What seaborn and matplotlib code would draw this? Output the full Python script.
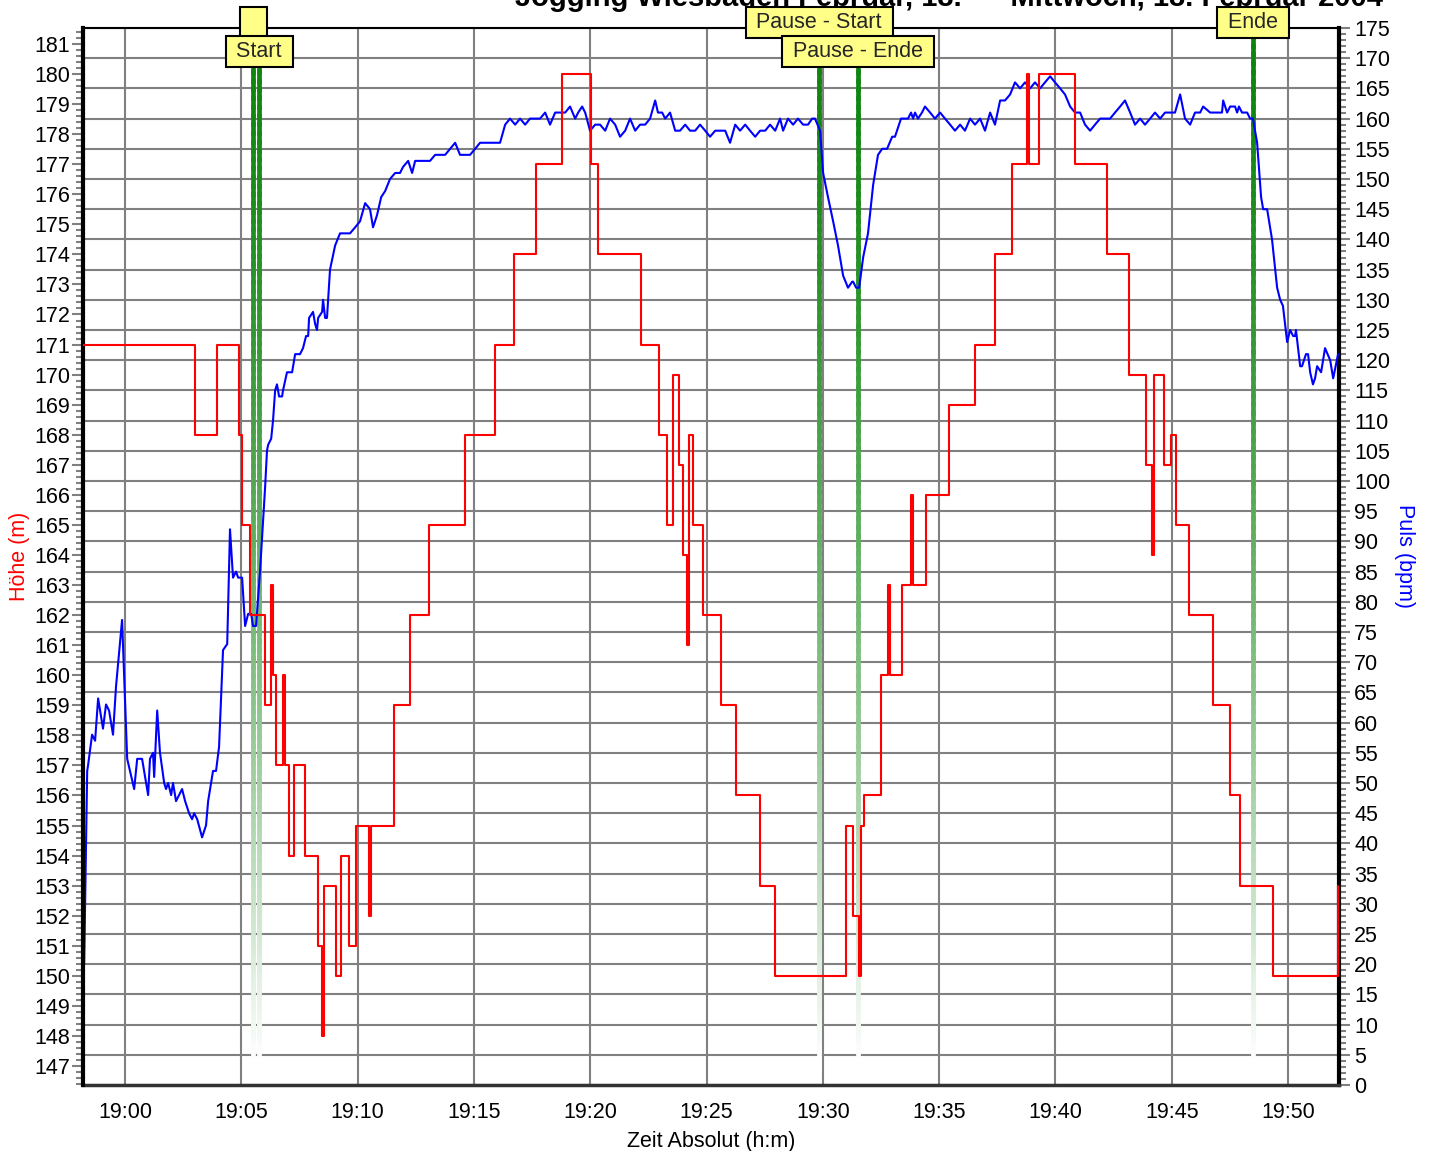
import numpy as np
import pandas as pd
import matplotlib
matplotlib.use("Agg")
import matplotlib.pyplot as plt
import matplotlib.dates as mdates
from matplotlib.collections import LineCollection
from matplotlib.transforms import blended_transform_factory
import seaborn as sns

# --- data (time in minutes after 19:00) ---
alt_min = [-1.81, 3.01, 3.96, 4.90, 5.03, 5.37, 6.02, 6.28, 6.36, 6.49, 6.79, 6.88,
           7.05, 7.27, 7.74, 8.30, 8.47, 8.56, 9.07, 9.29, 9.63, 9.93, 10.49, 10.58,
           11.56, 12.25, 13.07, 14.62, 15.91, 16.72, 17.67, 18.79, 20.03, 20.34,
           22.18, 22.96, 23.30, 23.56, 23.82, 23.99, 24.16, 24.25, 24.42, 24.85,
           25.62, 26.27, 27.30, 27.94, 31.00, 31.30, 31.56, 31.64, 31.77, 32.50,
           32.80, 32.89, 33.40, 33.79, 33.88, 34.44, 35.43, 36.54, 37.40, 38.13,
           38.78, 38.86, 39.29, 40.84, 42.22, 43.16, 43.90, 44.15, 44.24, 44.67,
           44.97, 45.18, 45.74, 46.78, 47.51, 47.94, 49.35, 52.12, 52.16]
alt_m = [171, 168, 171, 168, 165, 162, 159, 163, 160, 157, 160, 157,
         154, 157, 154, 151, 148, 153, 150, 154, 151, 155, 152, 155,
         159, 162, 165, 168, 171, 174, 177, 180, 177, 174,
         171, 168, 165, 170, 167, 164, 161, 168, 165, 162,
         159, 156, 153, 150, 155, 152, 150, 155, 156, 160,
         163, 160, 163, 166, 163, 166, 169, 171, 174, 177,
         180, 177, 180, 177, 174, 170, 167, 164, 170, 167,
         168, 165, 162, 159, 156, 153, 150, 150, 153]

pulse_min = [-1.76, -1.63, -1.59, -1.42, -1.29, -1.16, -0.95, -0.82, -0.69, -0.52, -0.39, -0.13,
             0.09, 0.21, 0.39, 0.52, 0.73, 0.99, 1.07, 1.20, 1.25, 1.38, 1.50, 1.68,
             1.76, 1.85, 1.98, 2.06, 2.19, 2.45, 2.58, 2.75, 2.88, 2.97, 3.10, 3.31,
             3.48, 3.57, 3.78, 3.91, 4.04, 4.21, 4.39, 4.51, 4.64, 4.77, 4.86, 5.03,
             5.16, 5.29, 5.42, 5.50, 5.63, 5.80, 6.02, 6.10, 6.15, 6.28, 6.36, 6.45,
             6.53, 6.62, 6.75, 6.79, 6.96, 7.09, 7.18, 7.31, 7.44, 7.52, 7.65, 7.78,
             7.87, 7.91, 8.08, 8.17, 8.25, 8.30, 8.47, 8.51, 8.60, 8.68, 8.81, 9.03,
             9.24, 9.67, 9.89, 10.10, 10.32, 10.53, 10.66, 10.83, 11.01, 11.18, 11.39, 11.61,
             11.82, 11.95, 12.17, 12.34, 12.47, 12.68, 13.11, 13.33, 13.76, 14.19, 14.40, 14.83,
             15.05, 15.26, 15.48, 15.91, 16.12, 16.34, 16.55, 16.77, 16.98, 17.20, 17.41, 17.63,
             17.84, 18.06, 18.27, 18.49, 18.70, 18.92, 19.13, 19.35, 19.48, 19.65, 19.78, 19.99,
             20.21, 20.42, 20.64, 20.85, 21.07, 21.28, 21.50, 21.71, 21.93, 22.14, 22.36, 22.57,
             22.79, 22.91, 23.09, 23.22, 23.43, 23.65, 23.86, 24.08, 24.29, 24.51, 24.72, 24.94,
             25.15, 25.37, 25.58, 25.80, 26.01, 26.23, 26.44, 26.66, 26.87, 27.09, 27.30, 27.52,
             27.73, 27.95, 28.16, 28.29, 28.50, 28.72, 28.93, 29.15, 29.36, 29.54, 29.66, 29.88,
             30.01, 30.22, 30.44, 30.65, 30.87, 31.08, 31.26, 31.30, 31.43, 31.56, 31.73, 31.94,
             32.16, 32.37, 32.55, 32.76, 32.98, 33.10, 33.36, 33.66, 33.79, 33.88, 33.96, 34.09,
             34.26, 34.39, 34.61, 34.82, 35.04, 35.25, 35.47, 35.68, 35.90, 36.11, 36.33, 36.54,
             36.76, 36.97, 37.19, 37.40, 37.62, 37.83, 38.05, 38.26, 38.48, 38.69, 38.91, 39.12,
             39.34, 39.55, 39.77, 39.98, 40.20, 40.41, 40.63, 40.84, 41.06, 41.27, 41.49, 41.70,
             41.92, 42.13, 42.35, 42.56, 42.78, 42.99, 43.21, 43.42, 43.64, 43.85, 44.07, 44.28,
             44.50, 44.71, 44.93, 45.14, 45.36, 45.57, 45.79, 46.00, 46.22, 46.35, 46.65, 47.16,
             47.21, 47.38, 47.51, 47.72, 47.81, 47.89, 48.02, 48.24, 48.37, 48.49, 48.67, 48.84,
             48.93, 49.10, 49.31, 49.53, 49.66, 49.78, 49.96, 50.09, 50.22, 50.30, 50.34, 50.52,
             50.60, 50.77, 50.86, 50.95, 51.07, 51.16, 51.25, 51.42, 51.59, 51.81, 51.94, 52.15]
pulse_bpm = [20, 52, 53, 58, 57, 64, 59, 63, 62, 58, 66, 77,
             54, 52, 49, 54, 54, 48, 54, 55, 51, 62, 55, 50,
             49, 50, 48, 50, 47, 49, 47, 45, 44, 45, 44, 41,
             43, 47, 52, 52, 56, 72, 73, 92, 84, 85, 84, 84,
             76, 78, 78, 76, 76, 85, 99, 105, 106, 107, 110, 115,
             116, 114, 114, 115, 118, 118, 118, 121, 121, 121, 122, 124,
             124, 127, 128, 126, 125, 127, 128, 130, 127, 127, 135, 139,
             141, 141, 142, 143, 146, 145, 142, 144, 147, 148, 150, 151,
             151, 152, 153, 151, 153, 153, 153, 154, 154, 156, 154, 154,
             155, 156, 156, 156, 156, 159, 160, 159, 160, 159, 160, 160,
             160, 161, 159, 161, 161, 161, 162, 160, 161, 162, 161, 158,
             159, 159, 158, 160, 159, 157, 158, 160, 158, 159, 159, 160,
             163, 161, 161, 160, 161, 158, 158, 159, 158, 158, 159, 158,
             157, 158, 158, 158, 156, 159, 158, 159, 158, 157, 158, 158,
             159, 158, 160, 158, 160, 159, 160, 159, 159, 160, 160, 158,
             151, 147, 143, 139, 134, 132, 133, 133, 132, 132, 137, 141,
             149, 154, 155, 155, 157, 157, 160, 160, 161, 160, 161, 160,
             161, 162, 161, 160, 161, 160, 159, 158, 159, 158, 160, 159,
             160, 158, 161, 159, 163, 163, 164, 166, 165, 166, 165, 166,
             165, 166, 167, 166, 165, 164, 162, 161, 161, 159, 158, 159,
             160, 160, 160, 161, 162, 163, 161, 159, 160, 159, 160, 161,
             160, 161, 161, 161, 164, 160, 159, 161, 161, 162, 161, 161,
             163, 161, 162, 162, 161, 162, 161, 161, 160, 160, 156, 147,
             145, 145, 140, 132, 130, 129, 123, 125, 124, 124, 125, 119,
             119, 121, 121, 118, 116, 117, 119, 118, 122, 120, 117, 121]

marker_min = [5.51, 5.76, 29.84, 31.51, 48.49]
marker_text = ["   ", "Start", "Pause - Start", "Pause - Ende", "Ende"]
marker_row = [0, 1, 0, 1, 0]

title = "Jogging Wiesbaden Februar, 18.  \u2013  Mittwoch, 18. Februar 2004"

base = pd.Timestamp("2004-02-18 19:00:00")
alt_df = pd.DataFrame({"Zeit": base + pd.to_timedelta(alt_min, unit="min"), "Hoehe": alt_m})
pulse_df = pd.DataFrame({"Zeit": base + pd.to_timedelta(pulse_min, unit="min"), "Puls": pulse_bpm})
marker_t = base + pd.to_timedelta(marker_min, unit="min")

sns.set_theme(style="white")
plt.rcParams["font.family"] = ["Liberation Sans", "DejaVu Sans"]
FS = 15.5

W, H = 1429, 1151
fig = plt.figure(figsize=(W / 100, H / 100), dpi=100)
ax = fig.add_axes([83 / W, 1 - 1085 / H, (1339 - 83) / W, (1085 - 28) / H])
ax2 = ax.twinx()

# host axis: pulse (right), grid, markers, blue line
ax.yaxis.tick_right()
ax.yaxis.set_label_position("right")
ax2.yaxis.tick_left()
ax2.yaxis.set_label_position("left")

ax.set_xlim(base + pd.Timedelta(minutes=-1.81), base + pd.Timedelta(minutes=52.19))
ax.set_ylim(0, 175)
ax2.set_ylim(146.37, 181.53)

ax.grid(True, which="major", color="#808080", lw=1.5)
ax.set_axisbelow(True)

# green marker lines fading downward
xn = mdates.date2num(marker_t)
ys = np.linspace(175, 2.5, 120)
green = np.array([0.05, 0.52, 0.05])
for xv in xn:
    segs = [[(xv, ys[i]), (xv, ys[i + 1])] for i in range(len(ys) - 1)]
    f = np.linspace(0, 1, len(segs)) ** 1.5
    cols = green[None, :] * (1 - f[:, None]) + f[:, None]
    ax.add_collection(LineCollection(segs, colors=cols, linewidths=3.4, zorder=2,
                                     capstyle="projecting"))

sns.lineplot(data=pulse_df, x="Zeit", y="Puls", ax=ax, color="#0000ff", lw=1.5,
             estimator=None, zorder=3)
sns.lineplot(data=alt_df, x="Zeit", y="Hoehe", ax=ax2, color="#ff0000", lw=1.5,
             estimator=None, drawstyle="steps-post", zorder=3)

trans = blended_transform_factory(ax.transData, fig.transFigure)
for t, txt, row in zip(xn, marker_text, marker_row):
    lab = " " + txt + " " if txt.strip() else txt
    ax.text(t, 1 - (22.5 + 29 * row) / H, lab, transform=trans, ha="center", va="center",
            fontsize=FS, zorder=10, clip_on=False,
            bbox=dict(boxstyle="square,pad=0.22", fc="#ffff88", ec="black", lw=1.5))

# ticks
ax.xaxis.set_major_locator(mdates.MinuteLocator(byminute=range(0, 60, 5)))
ax.xaxis.set_minor_locator(mdates.MinuteLocator())
ax.xaxis.set_major_formatter(mdates.DateFormatter("%H:%M"))
ax.yaxis.set_major_locator(plt.MultipleLocator(5))
ax.yaxis.set_minor_locator(plt.MultipleLocator(1))
ax2.yaxis.set_major_locator(plt.MultipleLocator(1))
ax2.yaxis.set_minor_locator(plt.MultipleLocator(0.2))
ax2.grid(False)

for a in (ax, ax2):
    a.tick_params(which="major", direction="out", length=8, width=1.5, color="#808080",
                  labelsize=FS, labelcolor="black", pad=3)
    a.tick_params(which="minor", direction="out", length=5, width=1.5, color="#808080")
ax.tick_params(axis="x", which="major", pad=4)
ax2.tick_params(axis="y", which="major", pad=1)
ax.tick_params(axis="y", which="both", left=False, right=True)
ax2.tick_params(axis="y", which="both", left=True, right=False)

ax.set_xlabel("Zeit Absolut (h:m)", fontsize=FS, color="black", labelpad=6)
ax.set_ylabel("Puls (bpm)", fontsize=FS, color="#0000ff", rotation=270, labelpad=18)
ax2.set_ylabel("Höhe (m)", fontsize=FS, color="#ff0000", labelpad=3)

for s in ax.spines.values():
    s.set_color("black")
ax.spines["left"].set_visible(False)
ax.spines["right"].set_linewidth(3)
ax.spines["top"].set_linewidth(1.5)
ax.spines["bottom"].set_linewidth(2.5)
ax.spines["bottom"].set_color("#333333")
for k in ("right", "top", "bottom"):
    ax2.spines[k].set_visible(False)
ax2.spines["left"].set_linewidth(3)
ax2.spines["left"].set_color("black")

fig.text(515 / W, 1 - 6 / H, title, ha="left", va="baseline", fontsize=21,
         fontweight="bold", color="black")

fig.savefig("out.png", dpi=100, facecolor="white")
